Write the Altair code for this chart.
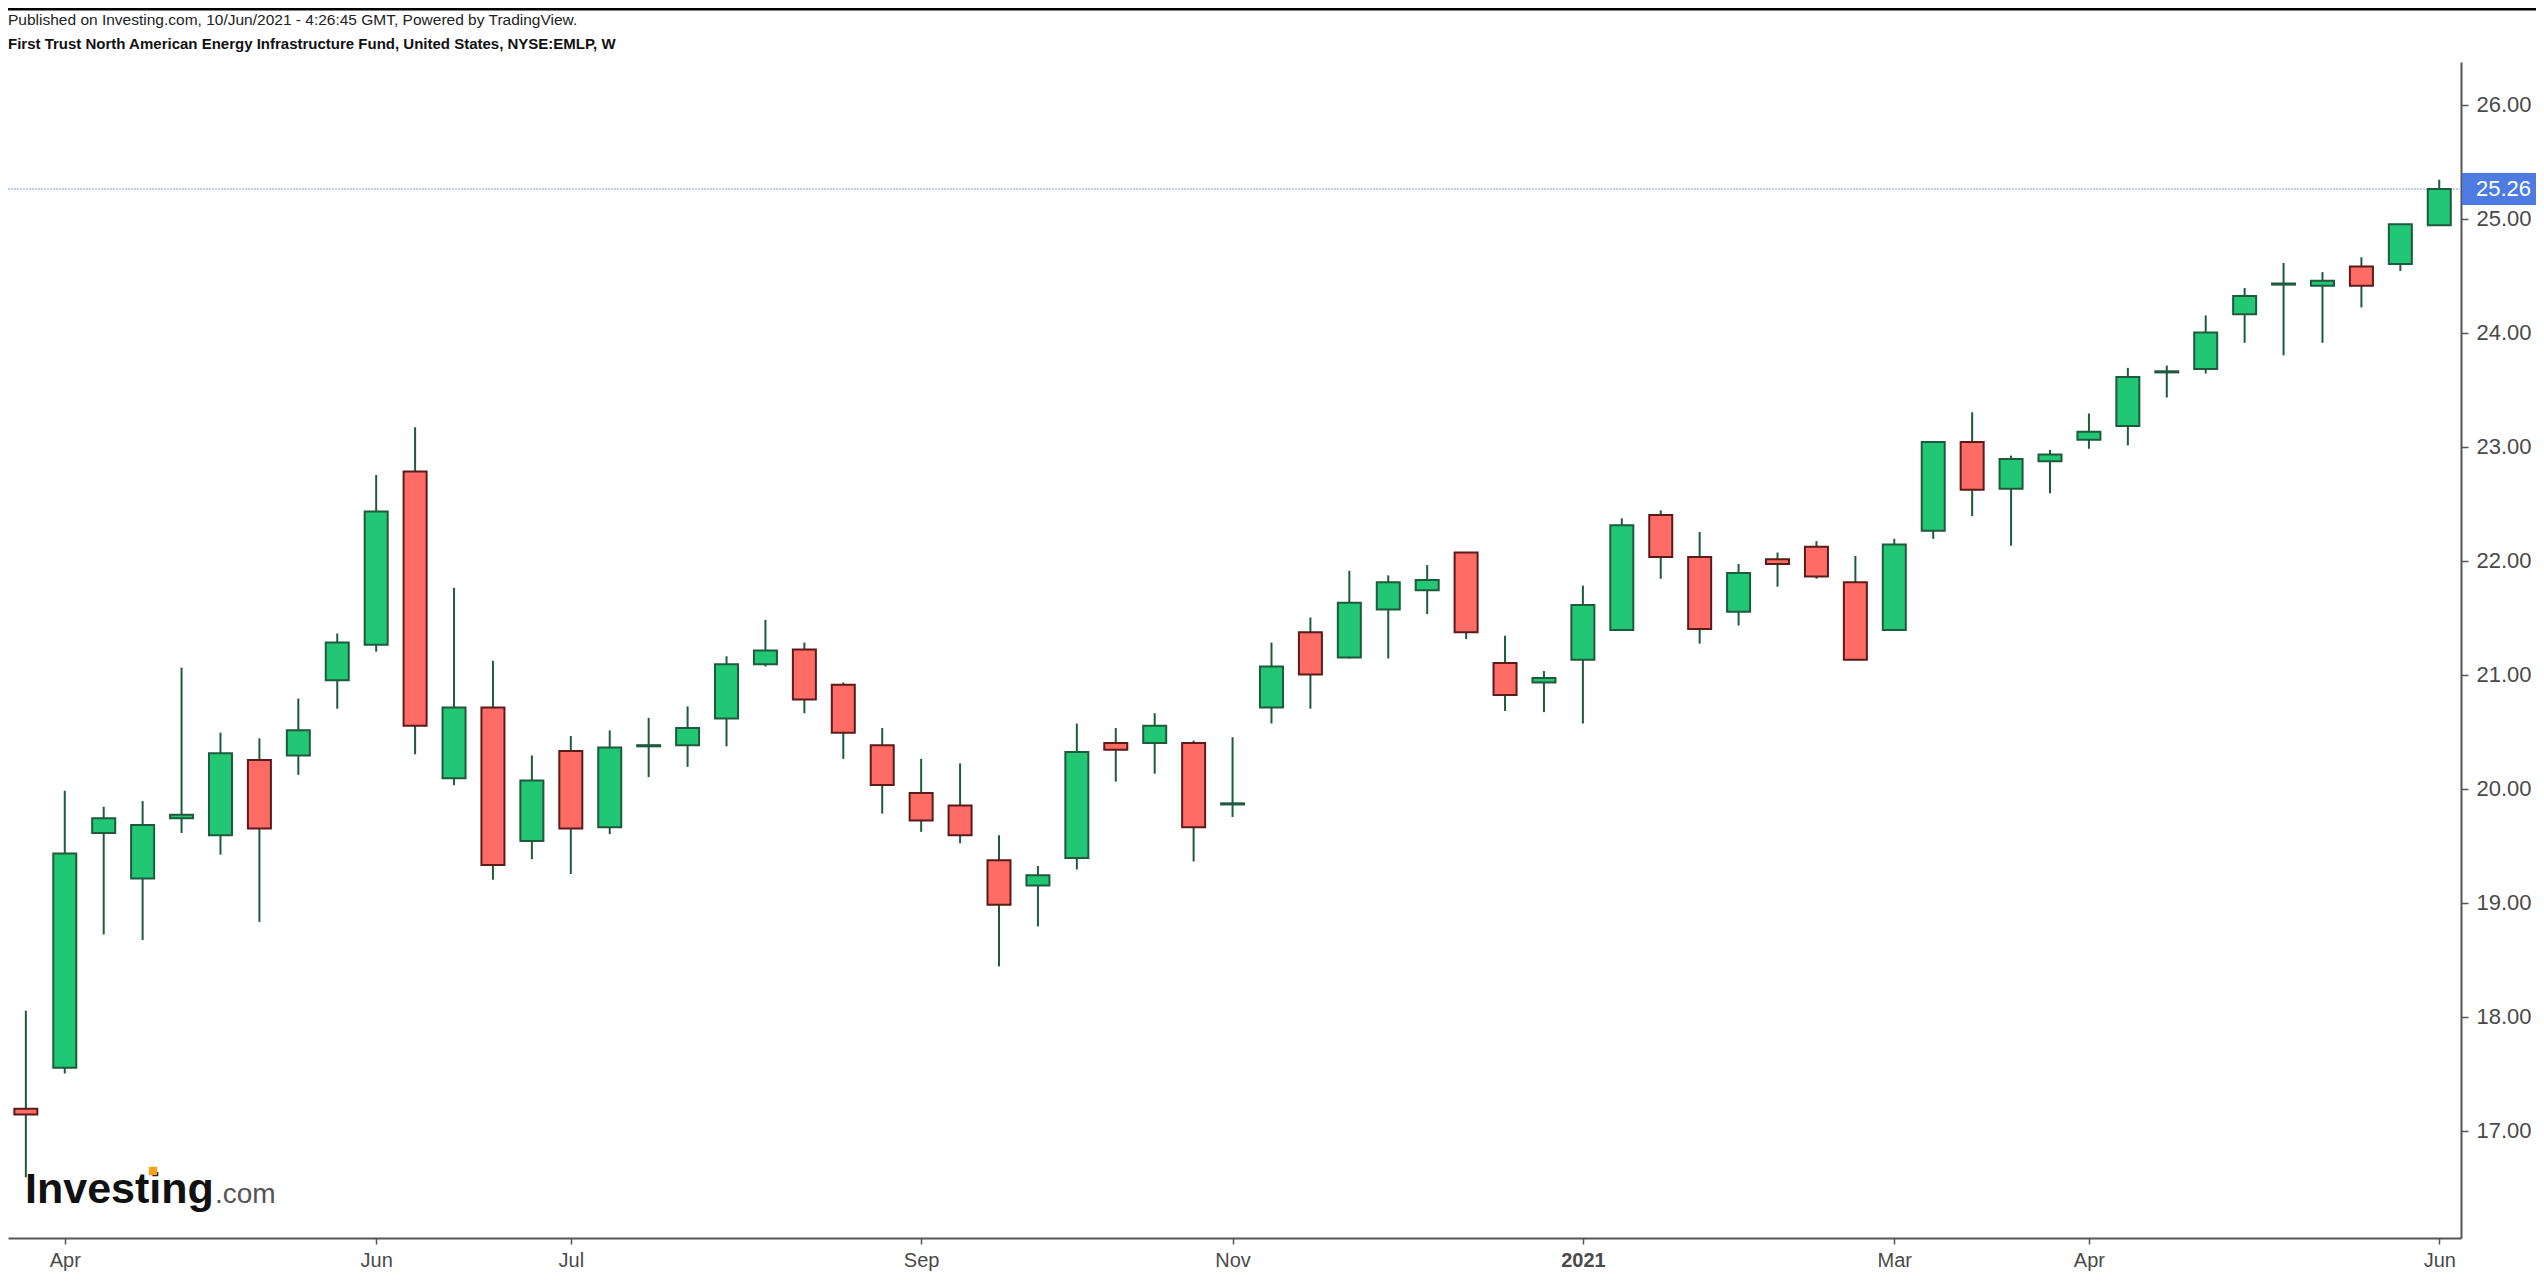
import altair as alt
import pandas as pd

# ---- data (weekly candles, Mar 30 2020 .. Jun 7 2021) ----
opens = [17.19, 17.55, 19.61, 19.21, 19.74, 19.59, 20.25, 20.29, 20.95, 21.26,
         22.78, 20.09, 20.71, 19.54, 20.33, 19.66, 20.37, 20.38, 20.615, 21.09,
         21.22, 20.91, 20.38, 19.96, 19.85, 19.37, 19.15, 19.39, 20.40, 20.40,
         20.40, 19.86, 20.71, 21.37, 21.15, 21.57, 21.74, 22.07, 21.10, 20.93,
         21.13, 21.39, 22.40, 22.03, 21.55, 22.01, 22.12, 21.81, 21.39, 22.26,
         23.04, 22.63, 22.87, 23.06, 23.18, 23.65, 23.68, 24.16, 24.42, 24.41,
         24.58, 24.60, 24.94]
highs = [18.05, 19.98, 19.84, 19.89, 21.06, 20.49, 20.44, 20.79, 21.36, 22.75,
         23.17, 21.76, 21.12, 20.29, 20.46, 20.51, 20.62, 20.72, 21.16, 21.48,
         21.28, 20.93, 20.53, 20.26, 20.22, 19.59, 19.32, 20.57, 20.53, 20.66,
         20.42, 20.45, 21.28, 21.50, 21.91, 21.87, 21.96, 22.07, 21.34, 21.03,
         21.78, 22.37, 22.44, 22.25, 21.97, 22.07, 22.17, 22.04, 22.19, 23.04,
         23.30, 22.92, 22.97, 23.29, 23.69, 23.71, 24.15, 24.39, 24.61, 24.53,
         24.66, 24.95, 25.34]
lows = [16.59, 17.50, 18.72, 18.67, 19.61, 19.42, 18.83, 20.12, 20.70, 21.20,
        20.30, 20.03, 19.20, 19.38, 19.25, 19.60, 20.10, 20.19, 20.37, 21.07,
        20.66, 20.26, 19.78, 19.62, 19.52, 18.44, 18.79, 19.29, 20.06, 20.13,
        19.36, 19.75, 20.57, 20.70, 21.14, 21.14, 21.53, 21.31, 20.68, 20.67,
        20.57, 21.39, 21.84, 21.27, 21.43, 21.77, 21.84, 21.13, 21.39, 22.19,
        22.39, 22.13, 22.59, 22.98, 23.01, 23.43, 23.64, 23.91, 23.80, 23.91,
        24.22, 24.54, 24.94]
closes = [17.14, 19.43, 19.74, 19.68, 19.77, 20.31, 19.65, 20.51, 21.28, 22.43,
          20.55, 20.71, 19.33, 20.07, 19.65, 20.36, 20.38, 20.53, 21.09, 21.21,
          20.78, 20.49, 20.03, 19.72, 19.59, 18.98, 19.24, 20.32, 20.34, 20.55,
          19.66, 19.87, 21.07, 21.00, 21.63, 21.81, 21.83, 21.37, 20.82, 20.97,
          21.61, 22.31, 22.03, 21.40, 21.89, 21.97, 21.86, 21.13, 22.14, 23.04,
          22.62, 22.89, 22.93, 23.13, 23.61, 23.66, 24.00, 24.32, 24.43, 24.455,
          24.41, 24.95, 25.26]

tick_index = [1, 9, 14, 23, 31, 40, 48, 53, 62]
tick_labels = ["Apr", "Jun", "Jul", "Sep", "Nov", "2021", "Mar", "Apr", "Jun"]
year_tick = 40
y_ticks = [17, 18, 19, 20, 21, 22, 23, 24, 25, 26]
last_price = [25.26]
last_price_label = ["25.26"]

header_line1 = "Published on Investing.com, 10/Jun/2021 - 4:26:45 GMT, Powered by TradingView."
header_line2 = "First Trust North American Energy Infrastructure Fund, United States, NYSE:EMLP, W"
logo_main = "Investing"
logo_suffix = ".com"

# ---- styles ----
GREEN = "#22c775"
RED = "#ff6b65"
GREEN_EDGE = "#1f5a3c"
RED_EDGE = "#5b1b1b"
WICK = "#1d5c3a"
AXIS = "#555555"
FONT = "Liberation Sans"

W, H = 2453, 1176

df = pd.DataFrame({"i": list(range(len(opens))), "open": opens, "high": highs,
                   "low": lows, "close": closes})
df["dir"] = ["up" if c >= o else "down" for o, c in zip(opens, closes)]

label_expr = ("[" + ",".join("'%s'" % t for t in tick_labels) + "][indexof(["
              + ",".join(str(v) for v in tick_index) + "], datum.value)]")

xenc = alt.X("i:Q",
             scale=alt.Scale(domain=[-0.33, 62.43], nice=False, zero=False),
             axis=alt.Axis(values=tick_index, labelExpr=label_expr, title=None,
                           grid=False, domainColor=AXIS, domainWidth=2,
                           tickColor=AXIS, tickWidth=1.5, tickSize=6,
                           labelPadding=6, labelFontSize=20, labelColor="#4a4a4a",
                           labelFont=FONT,
                           labelFontWeight={"condition": {"test": "datum.value == %d" % year_tick,
                                                          "value": "bold"},
                                            "value": "normal"}))
yscale = alt.Scale(domain=[16.057, 26.373], nice=False, zero=False)
yaxis = alt.Axis(orient="right", values=y_ticks, format=".2f", title=None, grid=False,
                 domainColor=AXIS, domainWidth=2, tickColor=AXIS, tickWidth=1.5,
                 tickSize=7, labelPadding=8, labelFontSize=22, labelColor="#4a4a4a",
                 labelFont=FONT)

base = alt.Chart(df)
wicks = base.mark_rule(color=WICK, strokeWidth=2).encode(
    x=xenc, y=alt.Y("low:Q", scale=yscale, axis=yaxis), y2="high:Q")
bodies = base.mark_bar(width=23, strokeWidth=2).encode(
    x=xenc, y=alt.Y("open:Q", scale=yscale, axis=yaxis), y2="close:Q",
    fill=alt.Fill("dir:N", scale=alt.Scale(domain=["up", "down"], range=[GREEN, RED]), legend=None),
    stroke=alt.Stroke("dir:N", scale=alt.Scale(domain=["up", "down"], range=[GREEN_EDGE, RED_EDGE]), legend=None))

lp = pd.DataFrame({"p": last_price, "t": last_price_label})
lp_line = alt.Chart(lp).mark_rule(color="#a9bbef", strokeDash=[2, 1], strokeWidth=1.5).encode(
    y=alt.Y("p:Q", scale=yscale), x=alt.value(0), x2=alt.value(W))
lp_box = alt.Chart(lp).mark_rule(color="#4d7be2", strokeWidth=32, strokeCap="butt").encode(
    y=alt.Y("p:Q", scale=yscale), x=alt.value(W + 1), x2=alt.value(W + 90))
lp_text = alt.Chart(lp).mark_text(align="left", baseline="middle", color="white",
                                  fontSize=22, font=FONT).encode(
    y=alt.Y("p:Q", scale=yscale), x=alt.value(W + 15), text="t:N")

one = pd.DataFrame({"k": [0]})
def label(txt, x, y, **kw):
    return alt.Chart(one).mark_text(align="left", font=FONT, **kw).encode(
        x=alt.value(x), y=alt.value(y), text=alt.value(txt))

h1 = label(header_line1, 0, -42, baseline="middle", fontSize=15.5, color="#222222")
h2 = label(header_line2, 0, -18, baseline="middle", fontSize=15, fontWeight="bold", color="#111111")
logo1 = label(logo_main, 17, 1141, baseline="alphabetic", fontSize=43, fontWeight="bold",
              color="#111111")
logo2 = label(logo_suffix, 207, 1141, baseline="alphabetic", fontSize=28, color="#555555")
dot = alt.Chart(one).mark_square(size=70, color="#f7a21b", opacity=1).encode(
    x=alt.value(145), y=alt.value(1109))
topline = alt.Chart(one).mark_rule(color="#000000", strokeWidth=3).encode(
    x=alt.value(-8), x2=alt.value(W + 80), y=alt.value(-53))

chart = alt.layer(lp_line, wicks, bodies, lp_box, lp_text, h1, h2, logo1, logo2, dot, topline).properties(
    width=W, height=H,
    autosize=alt.AutoSizeParams(type="none"),
    padding={"left": 0, "top": 54, "right": 75, "bottom": 36},
    background="white",
).configure_view(strokeWidth=0)

chart.save("out.html", embed_options={"renderer": "svg", "actions": False})
